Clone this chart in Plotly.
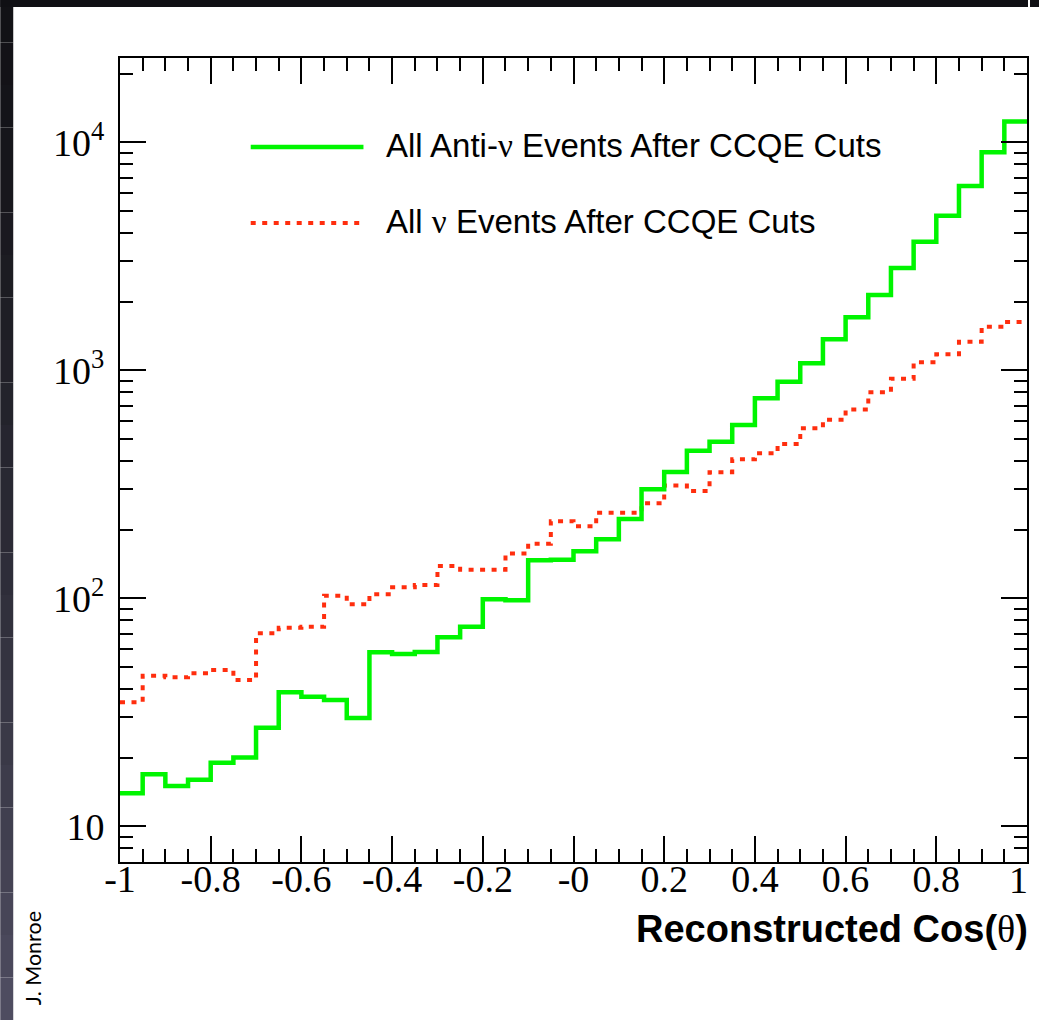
import numpy as np
import plotly.graph_objects as go

# ---- data ----
bin_edges = [round(-1 + 0.05 * i, 2) for i in range(41)]
anti_nu_events = [13.96, 16.9, 15.0, 16.0, 19.0, 20.0, 27.0, 38.7, 37.0, 35.8,
                  29.8, 57.9, 57.0, 58.1, 67.5, 75.0, 99.0, 98.0, 146.8, 147.6,
                  160.6, 181.5, 222.8, 300.6, 358, 444, 486, 575, 753, 891,
                  1074, 1368, 1707, 2138, 2810, 3666, 4764, 6430, 9040, 12350]
nu_events = [35.0, 45.7, 45.0, 46.9, 48.5, 43.8, 70.2, 74.3, 75.0, 102.6,
             94.1, 104.1, 111.8, 114.4, 138.6, 133.4, 133.4, 157, 173.4, 217.8,
             207, 237, 237, 261, 312, 295.7, 357, 407, 432, 475,
             557, 606, 672, 801, 917, 1084, 1175, 1333, 1553, 1630]
x_tickvals = [-1, -0.8, -0.6, -0.4, -0.2, 0, 0.2, 0.4, 0.6, 0.8, 1]
x_ticktext = ["-1", "-0.8", "-0.6", "-0.4", "-0.2", "-0", "0.2", "0.4", "0.6", "0.8", "1"]
y_tickvals = [10, 100, 1000, 10000]
y_ticktext = ["10", "10<sup>2</sup>", "10<sup>3</sup>", "10<sup>4</sup>"]

GREEN = "#00f500"
RED = "#ff2e0e"
W, H = 1030, 1020
L, R, T, B = 120, 1, 58, 158
PW, PH = W - L - R, H - T - B


def px_x(p):
    return (p - L) / PW


def px_y(p):
    return (H - B - p) / PH


fig = go.Figure()
fig.add_trace(go.Scatter(
    x=bin_edges, y=nu_events + [nu_events[-1]], mode="lines",
    line=dict(color=RED, width=4, shape="hv", dash="5px,6.5px"),
    showlegend=False, hoverinfo="skip"))
fig.add_trace(go.Scatter(
    x=bin_edges, y=anti_nu_events + [anti_nu_events[-1]], mode="lines",
    line=dict(color=GREEN, width=4.5, shape="hv"),
    showlegend=False, hoverinfo="skip"))

shapes = []
# dark slide background strips (gradient approximation)
n = 24
top_c = np.array([18, 18, 22])
bot_c = np.array([78, 76, 96])
for i in range(n):
    y0 = i * H / n
    y1 = (i + 1) * H / n
    c = top_c + (bot_c - top_c) * (i / (n - 1)) ** 1.3
    col = "rgb(%d,%d,%d)" % tuple(c.astype(int))
    shapes.append(dict(type="rect", xref="paper", yref="paper",
                       x0=px_x(0), x1=px_x(13), y0=px_y(y1), y1=px_y(y0),
                       fillcolor=col, line=dict(width=0), layer="below"))
shapes.append(dict(type="rect", xref="paper", yref="paper",
                   x0=px_x(0), x1=px_x(W), y0=px_y(7), y1=px_y(0),
                   fillcolor="rgb(16,16,20)", line=dict(width=0), layer="below"))
# legend sample lines
shapes.append(dict(type="line", xref="paper", yref="paper",
                   x0=px_x(251), x1=px_x(364), y0=px_y(147), y1=px_y(147),
                   line=dict(color=GREEN, width=4.5)))
shapes.append(dict(type="line", xref="paper", yref="paper",
                   x0=px_x(251), x1=px_x(362), y0=px_y(223), y1=px_y(223),
                   line=dict(color=RED, width=4, dash="5px,6.5px")))

serif = "'Liberation Serif', 'Times New Roman', serif"
sans = "'Liberation Sans', Arial, sans-serif"

annotations = [
    dict(x=px_x(385), y=px_y(146), xref="paper", yref="paper",
         xanchor="left", yanchor="middle", showarrow=False,
         text="All Anti-<span style=\"font-family:'Liberation Serif'\">ν</span> Events After CCQE Cuts",
         font=dict(family=sans, size=33, color="black")),
    dict(x=px_x(385), y=px_y(222), xref="paper", yref="paper",
         xanchor="left", yanchor="middle", showarrow=False,
         text="All <span style=\"font-family:'Liberation Serif'\">ν</span> Events After CCQE Cuts",
         font=dict(family=sans, size=33, color="black")),
    dict(x=px_x(1032), y=px_y(929), xref="paper", yref="paper",
         xanchor="right", yanchor="middle", showarrow=False,
         text="<b>Reconstructed Cos(</b><span style=\"font-family:'Liberation Serif'\">θ</span><b>)</b>",
         font=dict(family=sans, size=38, color="black")),
    dict(x=px_x(33), y=px_y(958), xref="paper", yref="paper",
         xanchor="center", yanchor="middle", showarrow=False, textangle=-90,
         text="J. Monroe", font=dict(family="Lato, 'Noto Sans', sans-serif", size=21.5, color="black")),
    # last x tick label (at the right edge of the frame)
    dict(x=x_tickvals[-1], y=px_y(880), xref="x", yref="paper",
         xanchor="right", yanchor="middle", showarrow=False, xshift=2, borderpad=0,
         text=x_ticktext[-1],
         font=dict(family=serif, size=38, color="black")),
]

fig.update_layout(
    width=W, height=H,
    margin=dict(l=L, r=R, t=T, b=B, pad=0),
    paper_bgcolor="white", plot_bgcolor="white",
    shapes=shapes, annotations=annotations,
    showlegend=False,
    xaxis=dict(range=[-1, 1], tickvals=x_tickvals[:-1], ticktext=x_ticktext[:-1],
               ticks="inside", ticklen=26, tickwidth=1.6, tickcolor="black",
               ticklabelstandoff=-18,
               minor=dict(ticks="inside", ticklen=13, dtick=0.05, tickwidth=1.6, tickcolor="black", showgrid=False),
               showline=True, linecolor="black", linewidth=2, mirror="allticks",
               showgrid=False, zeroline=False,
               tickfont=dict(family=serif, size=38, color="black")),
    yaxis=dict(type="log", range=[0.843, 4.3697], tickvals=y_tickvals, ticktext=y_ticktext,
               ticks="inside", ticklen=26, tickwidth=1.6, tickcolor="black",
               ticklabelstandoff=6,
               minor=dict(ticks="inside", ticklen=13, dtick="D1", tickwidth=1.6, tickcolor="black", showgrid=False),
               showline=True, linecolor="black", linewidth=2, mirror="allticks",
               showgrid=False, zeroline=False,
               tickfont=dict(family=serif, size=38, color="black")),
)

fig.write_html(
    "out.html",
    config={"displayModeBar": False},
    post_script=(
        "document.body.style.margin='0px';document.body.style.padding='0px';"
        "document.body.style.overflow='hidden';"
        "document.documentElement.style.overflow='hidden';"
        "document.body.style.background='linear-gradient(to bottom, rgb(16,16,20) 0px, rgb(16,16,20) 7px, white 7px)';"
        "document.querySelectorAll('svg.main-svg').forEach(function(s){s.style.overflow='visible';});"
    ),
)
